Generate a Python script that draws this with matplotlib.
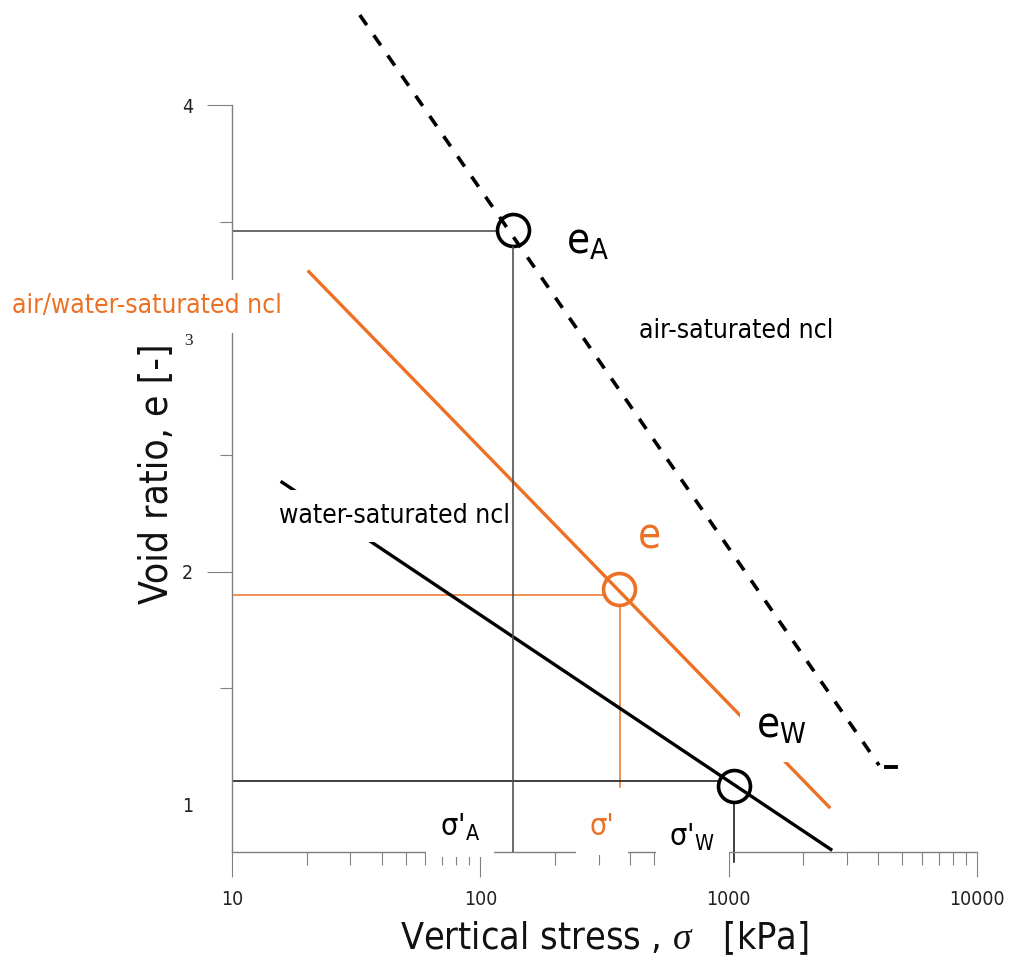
import matplotlib
matplotlib.use('Agg')
import matplotlib.pyplot as plt
from matplotlib.ticker import FixedLocator, LogLocator, NullFormatter

plt.rcParams['font.family'] = ['DejaVu Sans']
plt.rcParams['font.stretch'] = 'condensed'
plt.rcParams['mathtext.fontset'] = 'custom'
plt.rcParams['mathtext.rm'] = 'DejaVu Sans'
plt.rcParams['mathtext.it'] = 'Liberation Serif:italic'
plt.rcParams['mathtext.default'] = 'regular'

# ---------------- data ----------------
# normal compression lines (vertical stress [kPa], void ratio [-])
air_sigma = [32.7, 4033]
air_e = [4.388, 1.170]
air_end_sigma = [4285, 4707]
air_end_e = [1.162, 1.162]
mix_sigma = [20.4, 2538]
mix_e = [3.287, 0.991]
water_sigma = [15.9, 2578]
water_e = [2.384, 0.809]

# marked states: A (air), mixed, W (water)
point_sigma = [136, 363, 1050]
point_e = [3.465, 1.924, 1.080]
ref_sigma = [136, 366, 1046]
ref_e = [3.463, 1.899, 1.102]
ref_e_bottom = [0.80, 1.075, 0.753]

x_ticks = [10, 100, 1000, 10000]
x_tick_labels = ['10', '100', '1000', '10000']
y_ticks = [1, 2, 3, 4]
y_tick_labels = ['1', '2', '3', '4']
y_minor = [1.5, 2.5, 3.5]

ORANGE = '#ED7125'
GREY = '#808080'

fig = plt.figure(figsize=(10.13, 9.63), dpi=100)
ax = fig.add_axes([232 / 1013, (963 - 851.5) / 963, 745 / 1013, 746 / 963])
ax.set_xscale('log')
ax.set_xlim(10, 10000)
ax.set_ylim(0.8, 4.0)


def below_circle(sig, e, r_px=17):
    x, y = ax.transData.transform((sig, e))
    return ax.transData.inverted().transform((x, y - r_px))[1]


# reference (construction) lines
ax.plot([10, ref_sigma[0]], [ref_e[0]] * 2, color='#505050', lw=1.2, zorder=1)
ax.plot([ref_sigma[0]] * 2, [below_circle(point_sigma[0], point_e[0]), ref_e_bottom[0]],
        color='#505050', lw=1.2, zorder=6)
ax.plot([10, ref_sigma[1]], [ref_e[1]] * 2, color=ORANGE, lw=1.1, zorder=1)
ax.plot([ref_sigma[1]] * 2, [ref_e[1], ref_e_bottom[1]], color=ORANGE, lw=1.1, zorder=1)
ax.plot([10, ref_sigma[2]], [ref_e[2]] * 2, color='#202020', lw=1.2, zorder=1)
ax.plot([ref_sigma[2]] * 2, [ref_e[2], ref_e_bottom[2]], color='#202020', lw=1.2,
        zorder=1, clip_on=False)

# circles
ax.plot(point_sigma[0], point_e[0], 'o', ms=23, mew=2.6, mec='black', mfc='white', zorder=2)
ax.plot(point_sigma[1], point_e[1], 'o', ms=23, mew=2.6, mec=ORANGE, mfc='white', zorder=2)
ax.plot(point_sigma[2], point_e[2], 'o', ms=23, mew=2.6, mec='black', mfc='white', zorder=2)

# compression lines
ax.plot(air_sigma, air_e, color='black', lw=2.6, ls=(0, (3.4, 3.4)), zorder=3, clip_on=False)
ax.plot(air_end_sigma, air_end_e, color='black', lw=2.8, zorder=3, clip_on=False)
ax.plot(mix_sigma, mix_e, color=ORANGE, lw=2.4, zorder=5.5)
ax.plot(water_sigma, water_e, color='black', lw=2.4, zorder=3)

# ticks
ax.xaxis.set_major_locator(FixedLocator(x_ticks))
ax.set_xticklabels(x_tick_labels)
ax.xaxis.set_minor_locator(LogLocator(base=10, subs=range(2, 10)))
ax.xaxis.set_minor_formatter(NullFormatter())
ax.set_yticks(y_ticks)
ax.set_yticklabels(y_tick_labels)
ax.set_yticks(y_minor, minor=True)
ax.tick_params(which='major', length=18, width=0.8, color=GREY, labelsize=14,
               pad=10, labelcolor='#222222')
ax.tick_params(which='minor', length=9, width=0.8, color=GREY)
yt = ax.yaxis.get_major_ticks()
yt[0].tick1line.set_visible(False)
yt[2].tick1line.set_visible(False)
yt[2].label1.set_fontfamily('Liberation Serif')
yt[2].label1.set_fontsize(12.5)

for s in ['top', 'right']:
    ax.spines[s].set_visible(False)
for s in ['left', 'bottom']:
    ax.spines[s].set_color(GREY)
    ax.spines[s].set_linewidth(1.0)

# axis labels
ax.set_xlabel(r'Vertical stress , $\mathit{\sigma}$   [kPa]', fontsize=27, color='#111111')
ax.xaxis.label.set(va='center', ha='center')
ax.xaxis.set_label_coords(0.5, -0.116)
ax.set_ylabel('Void ratio, e [-]', fontsize=28, color='#111111')
ax.yaxis.label.set(va='center', ha='center')
ax.yaxis.set_label_coords(-0.101, 0.506)

wb = dict(boxstyle='square,pad=0.5', fc='white', ec='none')
wb2 = dict(boxstyle='square,pad=0.45', fc='white', ec='none')
# annotations
ax.text(222, 3.367, 'e$_A$', fontsize=30, color='black', va='baseline', zorder=5)
ax.text(437, 3.001, 'air-saturated ncl', fontsize=19, color='black', va='baseline', zorder=5)
ax.text(15.45, 2.209, 'water-saturated ncl', fontsize=19, color='black', va='baseline',
        zorder=5, bbox=wb)
ax.text(429, 2.101, 'e', fontsize=30, color=ORANGE, va='baseline', zorder=5)
ax.text(1291, 1.291, 'e$_W$', fontsize=30, color='black', va='baseline', zorder=7,
        bbox=dict(boxstyle='square,pad=0.38', fc='white', ec='none'))
ax.text(1.30, 3.108, 'air/water-saturated ncl', fontsize=19, color=ORANGE, va='baseline',
        zorder=5, bbox=wb)
ax.text(68.6, 0.865, "σ'$_A$", fontsize=22, color='black', va='baseline', zorder=5, bbox=wb2)
ax.text(275, 0.869, "σ'", fontsize=22, color=ORANGE, va='baseline', zorder=5, bbox=wb2)
ax.text(577, 0.822, "σ'$_W$", fontsize=22, color='black', va='baseline', zorder=5, bbox=wb2)

fig.savefig('out.png', dpi=100, facecolor='white')
